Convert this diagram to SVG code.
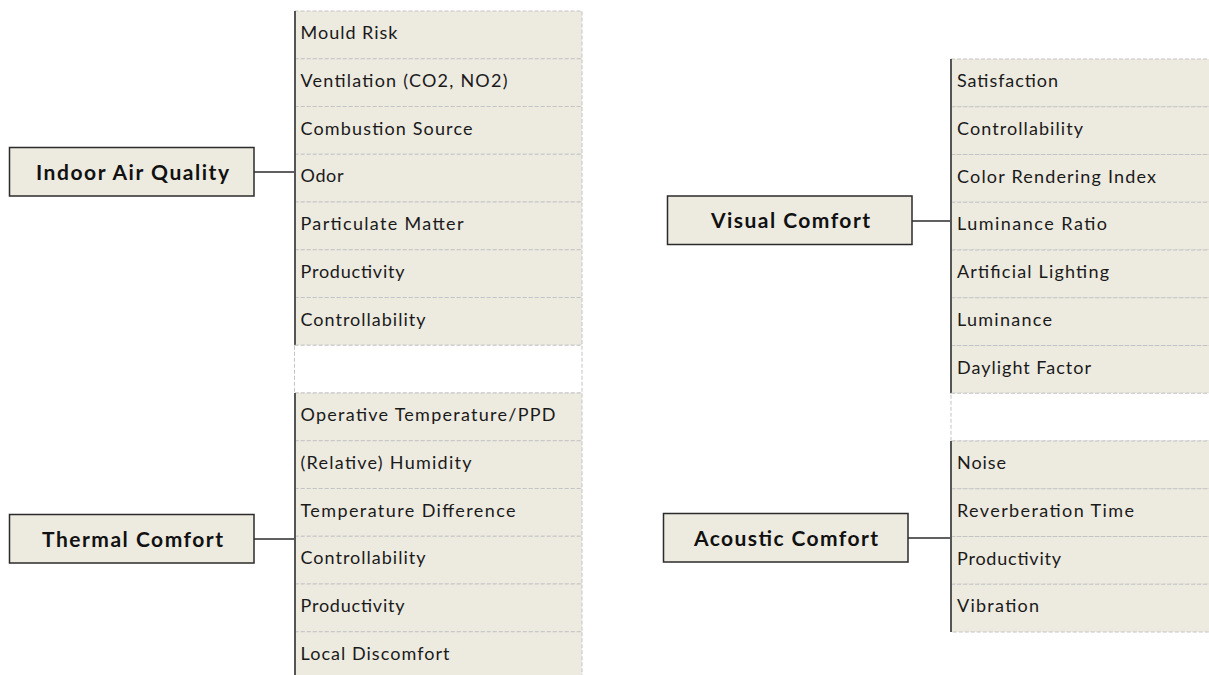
<svg xmlns="http://www.w3.org/2000/svg" width="1209" height="675" viewBox="0 0 1209 675">
<style>
.row{fill:#EDEAE0;stroke:#C4C4C4;stroke-width:1;stroke-dasharray:4 2}
.gap{fill:#FFFFFF;stroke:#C4C4C4;stroke-width:1;stroke-dasharray:4 2}
.spine{stroke:#555555;stroke-width:2}
.box{fill:#EDEAE0;stroke:#2B2B2B;stroke-width:1.5}
.lbl{font-family:Lato,"Open Sans","Liberation Sans",sans-serif;font-weight:bold;font-size:21px;fill:#111111;text-anchor:middle}
.it{font-family:Lato,"Open Sans","Liberation Sans",sans-serif;font-size:18px;fill:#1A1A1A}
.con{stroke:#2B2B2B;stroke-width:1.3;fill:none}
</style>
<rect width="1209" height="675" fill="#FFFFFF"/>

<g id="connectors">
<line class="con" x1="254" y1="172" x2="295" y2="172"/>
<line class="con" x1="254" y1="539" x2="295" y2="539"/>
<line class="con" x1="912" y1="221" x2="951" y2="221"/>
<line class="con" x1="908" y1="538" x2="951" y2="538"/>
</g>

<g id="list-iaq">
<g id="iaq-1"><rect class="row" x="294.5" y="11" width="287.5" height="47.75"/><text class="it" x="300.5" y="39" textLength="97" lengthAdjust="spacing">Mould Risk</text></g>
<g id="iaq-2"><rect class="row" x="294.5" y="58.75" width="287.5" height="47.75"/><text class="it" x="300.5" y="86.75" textLength="207" lengthAdjust="spacing">Ventilation (CO2, NO2)</text></g>
<g id="iaq-3"><rect class="row" x="294.5" y="106.5" width="287.5" height="47.75"/><text class="it" x="300.5" y="134.5" textLength="172" lengthAdjust="spacing">Combustion Source</text></g>
<g id="iaq-4"><rect class="row" x="294.5" y="154.25" width="287.5" height="47.75"/><text class="it" x="300.5" y="182.25" textLength="43" lengthAdjust="spacing">Odor</text></g>
<g id="iaq-5"><rect class="row" x="294.5" y="202" width="287.5" height="47.75"/><text class="it" x="300.5" y="230" textLength="163" lengthAdjust="spacing">Particulate Matter</text></g>
<g id="iaq-6"><rect class="row" x="294.5" y="249.75" width="287.5" height="47.75"/><text class="it" x="300.5" y="277.75" textLength="104" lengthAdjust="spacing">Productivity</text></g>
<g id="iaq-7"><rect class="row" x="294.5" y="297.5" width="287.5" height="47.75"/><text class="it" x="300.5" y="325.5" textLength="125" lengthAdjust="spacing">Controllability</text></g>
<line class="spine" x1="295" y1="11" x2="295" y2="345.25"/>
</g>

<rect class="gap" x="294.5" y="345.25" width="287.5" height="47.75"/>

<g id="list-thermal">
<g id="th-1"><rect class="row" x="294.5" y="393" width="287.5" height="47.75"/><text class="it" x="300.5" y="421" textLength="255" lengthAdjust="spacing">Operative Temperature/PPD</text></g>
<g id="th-2"><rect class="row" x="294.5" y="440.75" width="287.5" height="47.75"/><text class="it" x="300.5" y="468.75" textLength="171" lengthAdjust="spacing">(Relative) Humidity</text></g>
<g id="th-3"><rect class="row" x="294.5" y="488.5" width="287.5" height="47.75"/><text class="it" x="300.5" y="516.5" textLength="215" lengthAdjust="spacing">Temperature Difference</text></g>
<g id="th-4"><rect class="row" x="294.5" y="536.25" width="287.5" height="47.75"/><text class="it" x="300.5" y="564.25" textLength="125" lengthAdjust="spacing">Controllability</text></g>
<g id="th-5"><rect class="row" x="294.5" y="584" width="287.5" height="47.75"/><text class="it" x="300.5" y="612" textLength="104" lengthAdjust="spacing">Productivity</text></g>
<g id="th-6"><rect class="row" x="294.5" y="631.75" width="287.5" height="47.75"/><text class="it" x="300.5" y="659.75" textLength="149" lengthAdjust="spacing">Local Discomfort</text></g>
<line class="spine" x1="295" y1="393" x2="295" y2="679.5"/>
</g>

<g id="list-visual">
<g id="vis-1"><rect class="row" x="951" y="59" width="270" height="47.75"/><text class="it" x="957" y="87" textLength="101" lengthAdjust="spacing">Satisfaction</text></g>
<g id="vis-2"><rect class="row" x="951" y="106.75" width="270" height="47.75"/><text class="it" x="957" y="134.75" textLength="126" lengthAdjust="spacing">Controllability</text></g>
<g id="vis-3"><rect class="row" x="951" y="154.5" width="270" height="47.75"/><text class="it" x="957" y="182.5" textLength="199" lengthAdjust="spacing">Color Rendering Index</text></g>
<g id="vis-4"><rect class="row" x="951" y="202.25" width="270" height="47.75"/><text class="it" x="957" y="230.25" textLength="150" lengthAdjust="spacing">Luminance Ratio</text></g>
<g id="vis-5"><rect class="row" x="951" y="250" width="270" height="47.75"/><text class="it" x="957" y="278" textLength="152" lengthAdjust="spacing">Artificial Lighting</text></g>
<g id="vis-6"><rect class="row" x="951" y="297.75" width="270" height="47.75"/><text class="it" x="957" y="325.75" textLength="95" lengthAdjust="spacing">Luminance</text></g>
<g id="vis-7"><rect class="row" x="951" y="345.5" width="270" height="47.75"/><text class="it" x="957" y="373.5" textLength="134" lengthAdjust="spacing">Daylight Factor</text></g>
<line class="spine" x1="951" y1="59" x2="951" y2="393.25"/>
</g>

<rect class="gap" x="951" y="393.25" width="270" height="47.75"/>

<g id="list-acoustic">
<g id="ac-1"><rect class="row" x="951" y="441" width="270" height="47.75"/><text class="it" x="957" y="469" textLength="49" lengthAdjust="spacing">Noise</text></g>
<g id="ac-2"><rect class="row" x="951" y="488.75" width="270" height="47.75"/><text class="it" x="957" y="516.75" textLength="177" lengthAdjust="spacing">Reverberation Time</text></g>
<g id="ac-3"><rect class="row" x="951" y="536.5" width="270" height="47.75"/><text class="it" x="957" y="564.5" textLength="104" lengthAdjust="spacing">Productivity</text></g>
<g id="ac-4"><rect class="row" x="951" y="584.25" width="270" height="47.75"/><text class="it" x="957" y="612.25" textLength="82" lengthAdjust="spacing">Vibration</text></g>
<line class="spine" x1="951" y1="441" x2="951" y2="632"/>
</g>

<g id="node-iaq"><rect class="box" x="9.5" y="147.5" width="244.5" height="48.5"/><text class="lbl" x="132.5" y="179.5" textLength="193" lengthAdjust="spacing">Indoor Air Quality</text></g>
<g id="node-thermal"><rect class="box" x="9.5" y="514.5" width="244.5" height="48.5"/><text class="lbl" x="132.5" y="546.5" textLength="181" lengthAdjust="spacing">Thermal Comfort</text></g>
<g id="node-visual"><rect class="box" x="667.5" y="196" width="244.5" height="48.5"/><text class="lbl" x="790.5" y="228" textLength="159" lengthAdjust="spacing">Visual Comfort</text></g>
<g id="node-acoustic"><rect class="box" x="663.5" y="513.5" width="244.5" height="48.5"/><text class="lbl" x="786" y="545.5" textLength="184" lengthAdjust="spacing">Acoustic Comfort</text></g>
</svg>
